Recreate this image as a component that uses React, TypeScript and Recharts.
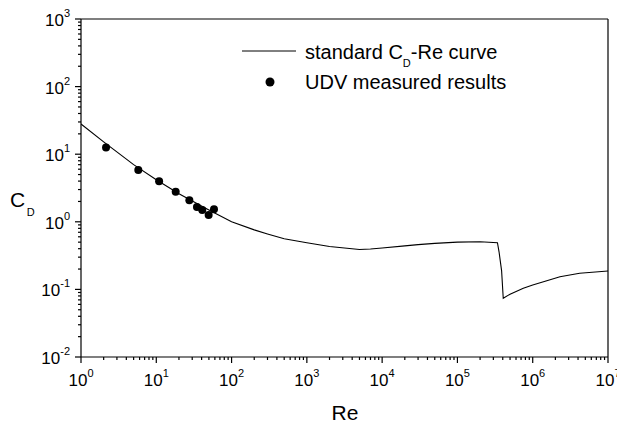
import {
  ComposedChart,
  Line,
  Scatter,
  XAxis,
  YAxis,
  ReferenceLine,
  Customized,
} from "recharts";

// standard drag curve, C_D against Re
const curveRe = [
  1, 2, 5, 10, 20, 50, 100, 200, 300, 500, 1e3, 2e3, 5e3, 7e3, 1e4, 2e4, 3e4,
  5e4, 1e5, 2e5, 3.4e5, 3.57e5, 3.86e5, 4.06e5, 5e5, 7.5e5, 1e6, 1.5e6, 2.3e6,
  4.2e6, 1e7,
];
const curveCd = [
  28, 15.2, 7.0, 4.2, 2.6, 1.5, 1.0, 0.76, 0.66, 0.56, 0.49, 0.43, 0.39, 0.395,
  0.41, 0.44, 0.46, 0.48, 0.5, 0.508, 0.49, 0.36, 0.19, 0.074, 0.085, 0.104,
  0.116, 0.133, 0.154, 0.173, 0.187,
];

// UDV measurements
const udvRe = [2.15, 5.77, 10.9, 18.1, 27.5, 34.7, 40.8, 49.6, 58.4];
const udvCd = [12.6, 5.84, 3.97, 2.79, 2.08, 1.66, 1.5, 1.26, 1.53];

const xDecades = [0, 1, 2, 3, 4, 5, 6, 7];
const yDecades = [-2, -1, 0, 1, 2, 3];

const curve = curveRe.map((re, i) => ({ re, cd: curveCd[i] }));
const udv = udvRe.map((re, i) => ({ re, cd: udvCd[i] }));

// majors plus 2..9 minors inside each decade
const logTicks = (decades: number[]) => {
  const out: number[] = [];
  decades.forEach((d, i) => {
    out.push(Math.pow(10, d));
    if (i < decades.length - 1) {
      for (let m = 2; m <= 9; m++) out.push(m * Math.pow(10, d));
    }
  });
  return out;
};

const xTicks = logTicks(xDecades);
const yTicks = logTicks(yDecades);

const FONT = "'Liberation Sans', Arial, sans-serif";

const decadeOf = (v: number) => {
  const l = Math.log10(v);
  const e = Math.round(l);
  return Math.abs(l - e) < 1e-6 ? e : null;
};

const XTick = (props: any) => {
  const { x, y, payload } = props;
  const exp = decadeOf(payload.value);
  return (
    <g>
      <line x1={x} x2={x} y1={y} y2={y + (exp !== null ? 6 : 3)} stroke="#000" strokeWidth={1.2} />
      {exp !== null && (
        <text x={x} y={y + 29} textAnchor="middle" fontFamily={FONT} fontSize={17} fill="#000">
          10
          <tspan dy={-9} fontSize={11}>
            {exp}
          </tspan>
        </text>
      )}
    </g>
  );
};

const YTick = (props: any) => {
  const { x, y, payload } = props;
  const exp = decadeOf(payload.value);
  return (
    <g>
      <line x1={x} x2={x - (exp !== null ? 6 : 3)} y1={y} y2={y} stroke="#000" strokeWidth={1.2} />
      {exp !== null && (
        <text x={x - 11} y={y + 7} textAnchor="end" fontFamily={FONT} fontSize={17} fill="#000">
          10
          <tspan dy={-9} fontSize={11}>
            {exp}
          </tspan>
        </text>
      )}
    </g>
  );
};

const Titles = () => (
  <g fontFamily={FONT} fill="#000">
    {/* axis titles */}
    <text x={10} y={207} fontSize={21}>
      C
      <tspan dx={1.5} dy={9} fontSize={11}>
        D
      </tspan>
    </text>
    <text x={345} y={420} fontSize={21} textAnchor="middle">
      Re
    </text>

    {/* legend */}
    <line x1={242} x2={296} y1={51} y2={51} stroke="#000" strokeWidth={1} />
    <text x={305} y={59} fontSize={20}>
      standard C
      <tspan dy={8} fontSize={11}>
        D
      </tspan>
      <tspan dy={-8}>-Re curve</tspan>
    </text>
    <circle cx={270} cy={82} r={4.5} fill="#000" />
    <text x={305} y={89} fontSize={20}>
      UDV measured results
    </text>
  </g>
);

const Dot = (props: any) => <circle cx={props.cx} cy={props.cy} r={4} fill="#000" />;

export default function App() {
  return (
    <div style={{ position: "absolute", left: 0, top: 0, background: "#fff" }}>
      <ComposedChart
        width={617}
        height={423}
        margin={{ top: 19, right: 9, bottom: 0, left: 0 }}
      >
        <XAxis
          dataKey="re"
          type="number"
          scale="log"
          domain={[1, 1e7]}
          ticks={xTicks}
          interval={0}
          allowDataOverflow
          height={66}
          tickSize={0}
          tickMargin={0}
          tickLine={false}
          tick={<XTick />}
          axisLine={{ stroke: "#000", strokeWidth: 1.2 }}
        />
        <YAxis
          dataKey="cd"
          type="number"
          scale="log"
          domain={[0.01, 1000]}
          ticks={yTicks}
          interval={0}
          allowDataOverflow
          width={81}
          tickSize={0}
          tickMargin={0}
          tickLine={false}
          tick={<YTick />}
          axisLine={{ stroke: "#000", strokeWidth: 1.2 }}
        />
        <ReferenceLine y={1000} stroke="#000" strokeWidth={1.2} />
        <ReferenceLine x={1e7} stroke="#000" strokeWidth={1.2} />
        <Line
          data={curve}
          dataKey="cd"
          type="linear"
          stroke="#000"
          strokeWidth={1.1}
          dot={false}
          isAnimationActive={false}
        />
        <Scatter data={udv} dataKey="cd" shape={<Dot />} isAnimationActive={false} />
        <Customized component={Titles} />
      </ComposedChart>
    </div>
  );
}
